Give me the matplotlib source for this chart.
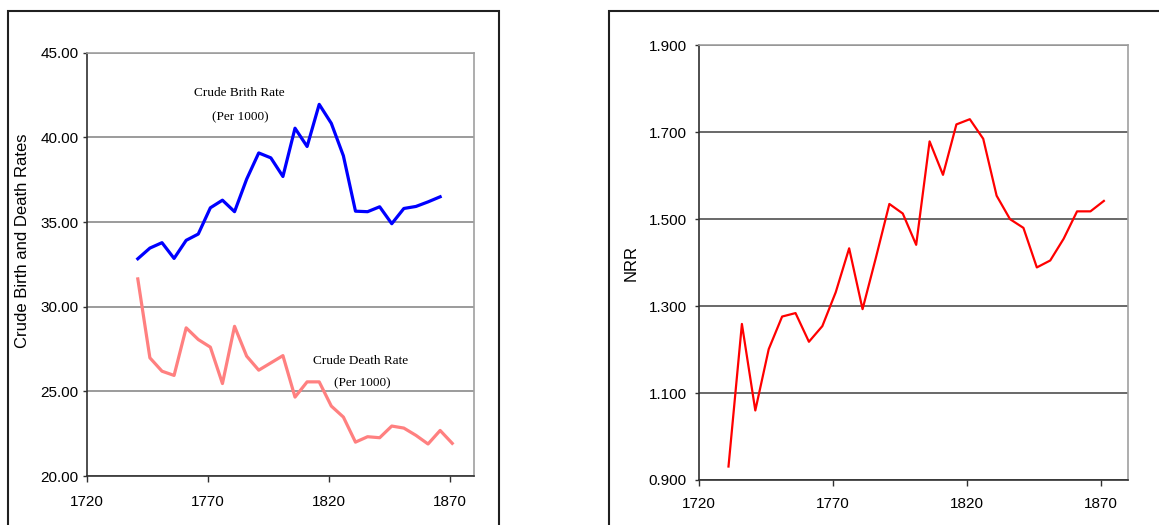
import numpy as np
import matplotlib
matplotlib.use("Agg")
import matplotlib.pyplot as plt
from matplotlib.patches import Rectangle
from matplotlib.ticker import FormatStrFormatter

plt.rcParams["font.family"] = ["Liberation Sans", "DejaVu Sans"]

# ---- data ----
years_cbr = np.arange(1741, 1867, 5)
cbr = [32.83, 33.46, 33.78, 32.85, 33.92, 34.29, 35.84, 36.29, 35.61, 37.53,
       39.08, 38.79, 37.69, 40.54, 39.46, 41.95, 40.83, 38.91, 35.64, 35.61,
       35.90, 34.90, 35.80, 35.92, 36.19, 36.49]

years_cdr = np.arange(1741, 1872, 5)
cdr = [31.64, 26.98, 26.19, 25.94, 28.75, 28.06, 27.61, 25.46, 28.84, 27.08,
       26.25, 26.68, 27.11, 24.66, 25.56, 25.56, 24.13, 23.48, 22.00, 22.32,
       22.26, 22.95, 22.83, 22.40, 21.89, 22.69, 21.93]

years_nrr = np.arange(1731, 1872, 5)
nrr = [0.931, 1.259, 1.060, 1.201, 1.276, 1.284, 1.218, 1.254, 1.332, 1.433,
       1.293, 1.412, 1.535, 1.513, 1.441, 1.679, 1.602, 1.718, 1.730, 1.685,
       1.554, 1.500, 1.480, 1.389, 1.405, 1.455, 1.518, 1.518, 1.542]

xticks = [1720, 1770, 1820, 1870]

fig = plt.figure(figsize=(11.59, 5.25), dpi=100)

# outer chart-area frames
fig.patches.append(Rectangle((8 / 1159, -0.05), 491 / 1159, 1.05 - 11 / 525,
                             transform=fig.transFigure, fill=False,
                             edgecolor="#202020", lw=1.5))
fig.patches.append(Rectangle((609 / 1159, -0.05), 0.6, 1.05 - 11 / 525,
                             transform=fig.transFigure, fill=False,
                             edgecolor="#202020", lw=1.5))


def style_axes(ax, grid_color, pad_x, pad_y):
    ax.set_xlim(1720, 1880)
    ax.set_xticks(xticks)
    ax.grid(True, axis="y", color=grid_color, lw=1.1)
    ax.set_axisbelow(True)
    for s in ("top", "right"):
        ax.spines[s].set_color("#a0a0a0")
        ax.spines[s].set_linewidth(1.2)
    for s in ("left", "bottom"):
        ax.spines[s].set_color("#303030")
        ax.spines[s].set_linewidth(1.2)
    ax.tick_params(axis="x", direction="out", length=4, width=1,
                   color="#303030", labelsize=11, pad=pad_x)
    ax.tick_params(axis="y", direction="out", length=3, width=1,
                   color="#303030", labelsize=11, pad=pad_y)


# ---- left: crude birth and death rates ----
ax1 = fig.add_axes([87 / 1159, 49 / 525, 387 / 1159, 423.3 / 525])
ax1.plot(years_cbr, cbr, color="#0000ff", lw=2.3)
ax1.plot(years_cdr, cdr, color="#ff8080", lw=2.3)
ax1.set_ylim(20, 45)
ax1.set_yticks(np.arange(20, 46, 5))
ax1.yaxis.set_major_formatter(FormatStrFormatter("%.2f"))
style_axes(ax1, "#808080", 10, 3)
ax1.set_ylabel("Crude Birth and Death Rates", fontsize=12)
ax1.yaxis.set_label_coords(-0.146, 0.555)

serif = ["Liberation Serif", "DejaVu Serif"]
ax1.text(1783, 42.6, "Crude Brith Rate", family=serif, fontsize=9.5,
         ha="center", va="center")
ax1.text(1783.5, 41.2, "(Per 1000)", family=serif, fontsize=9.5,
         ha="center", va="center")
ax1.text(1833, 26.8, "Crude Death Rate", family=serif, fontsize=9.5,
         ha="center", va="center")
ax1.text(1834, 25.47, "(Per 1000)", family=serif, fontsize=9.5,
         ha="center", va="center")

# ---- right: NRR ----
ax2 = fig.add_axes([699 / 1159, 45 / 525, 429 / 1159, 434.7 / 525])
ax2.plot(years_nrr, nrr, color="#ff0000", lw=1.6)
ax2.set_ylim(0.9, 1.9)
ax2.set_yticks(np.arange(0.9, 1.91, 0.2))
ax2.yaxis.set_major_formatter(FormatStrFormatter("%.3f"))
style_axes(ax2, "#404040", 8, 6)
ax2.set_ylabel("NRR", fontsize=12)
ax2.yaxis.set_label_coords(-0.14, 0.5)

fig.savefig("out.png", dpi=100)
